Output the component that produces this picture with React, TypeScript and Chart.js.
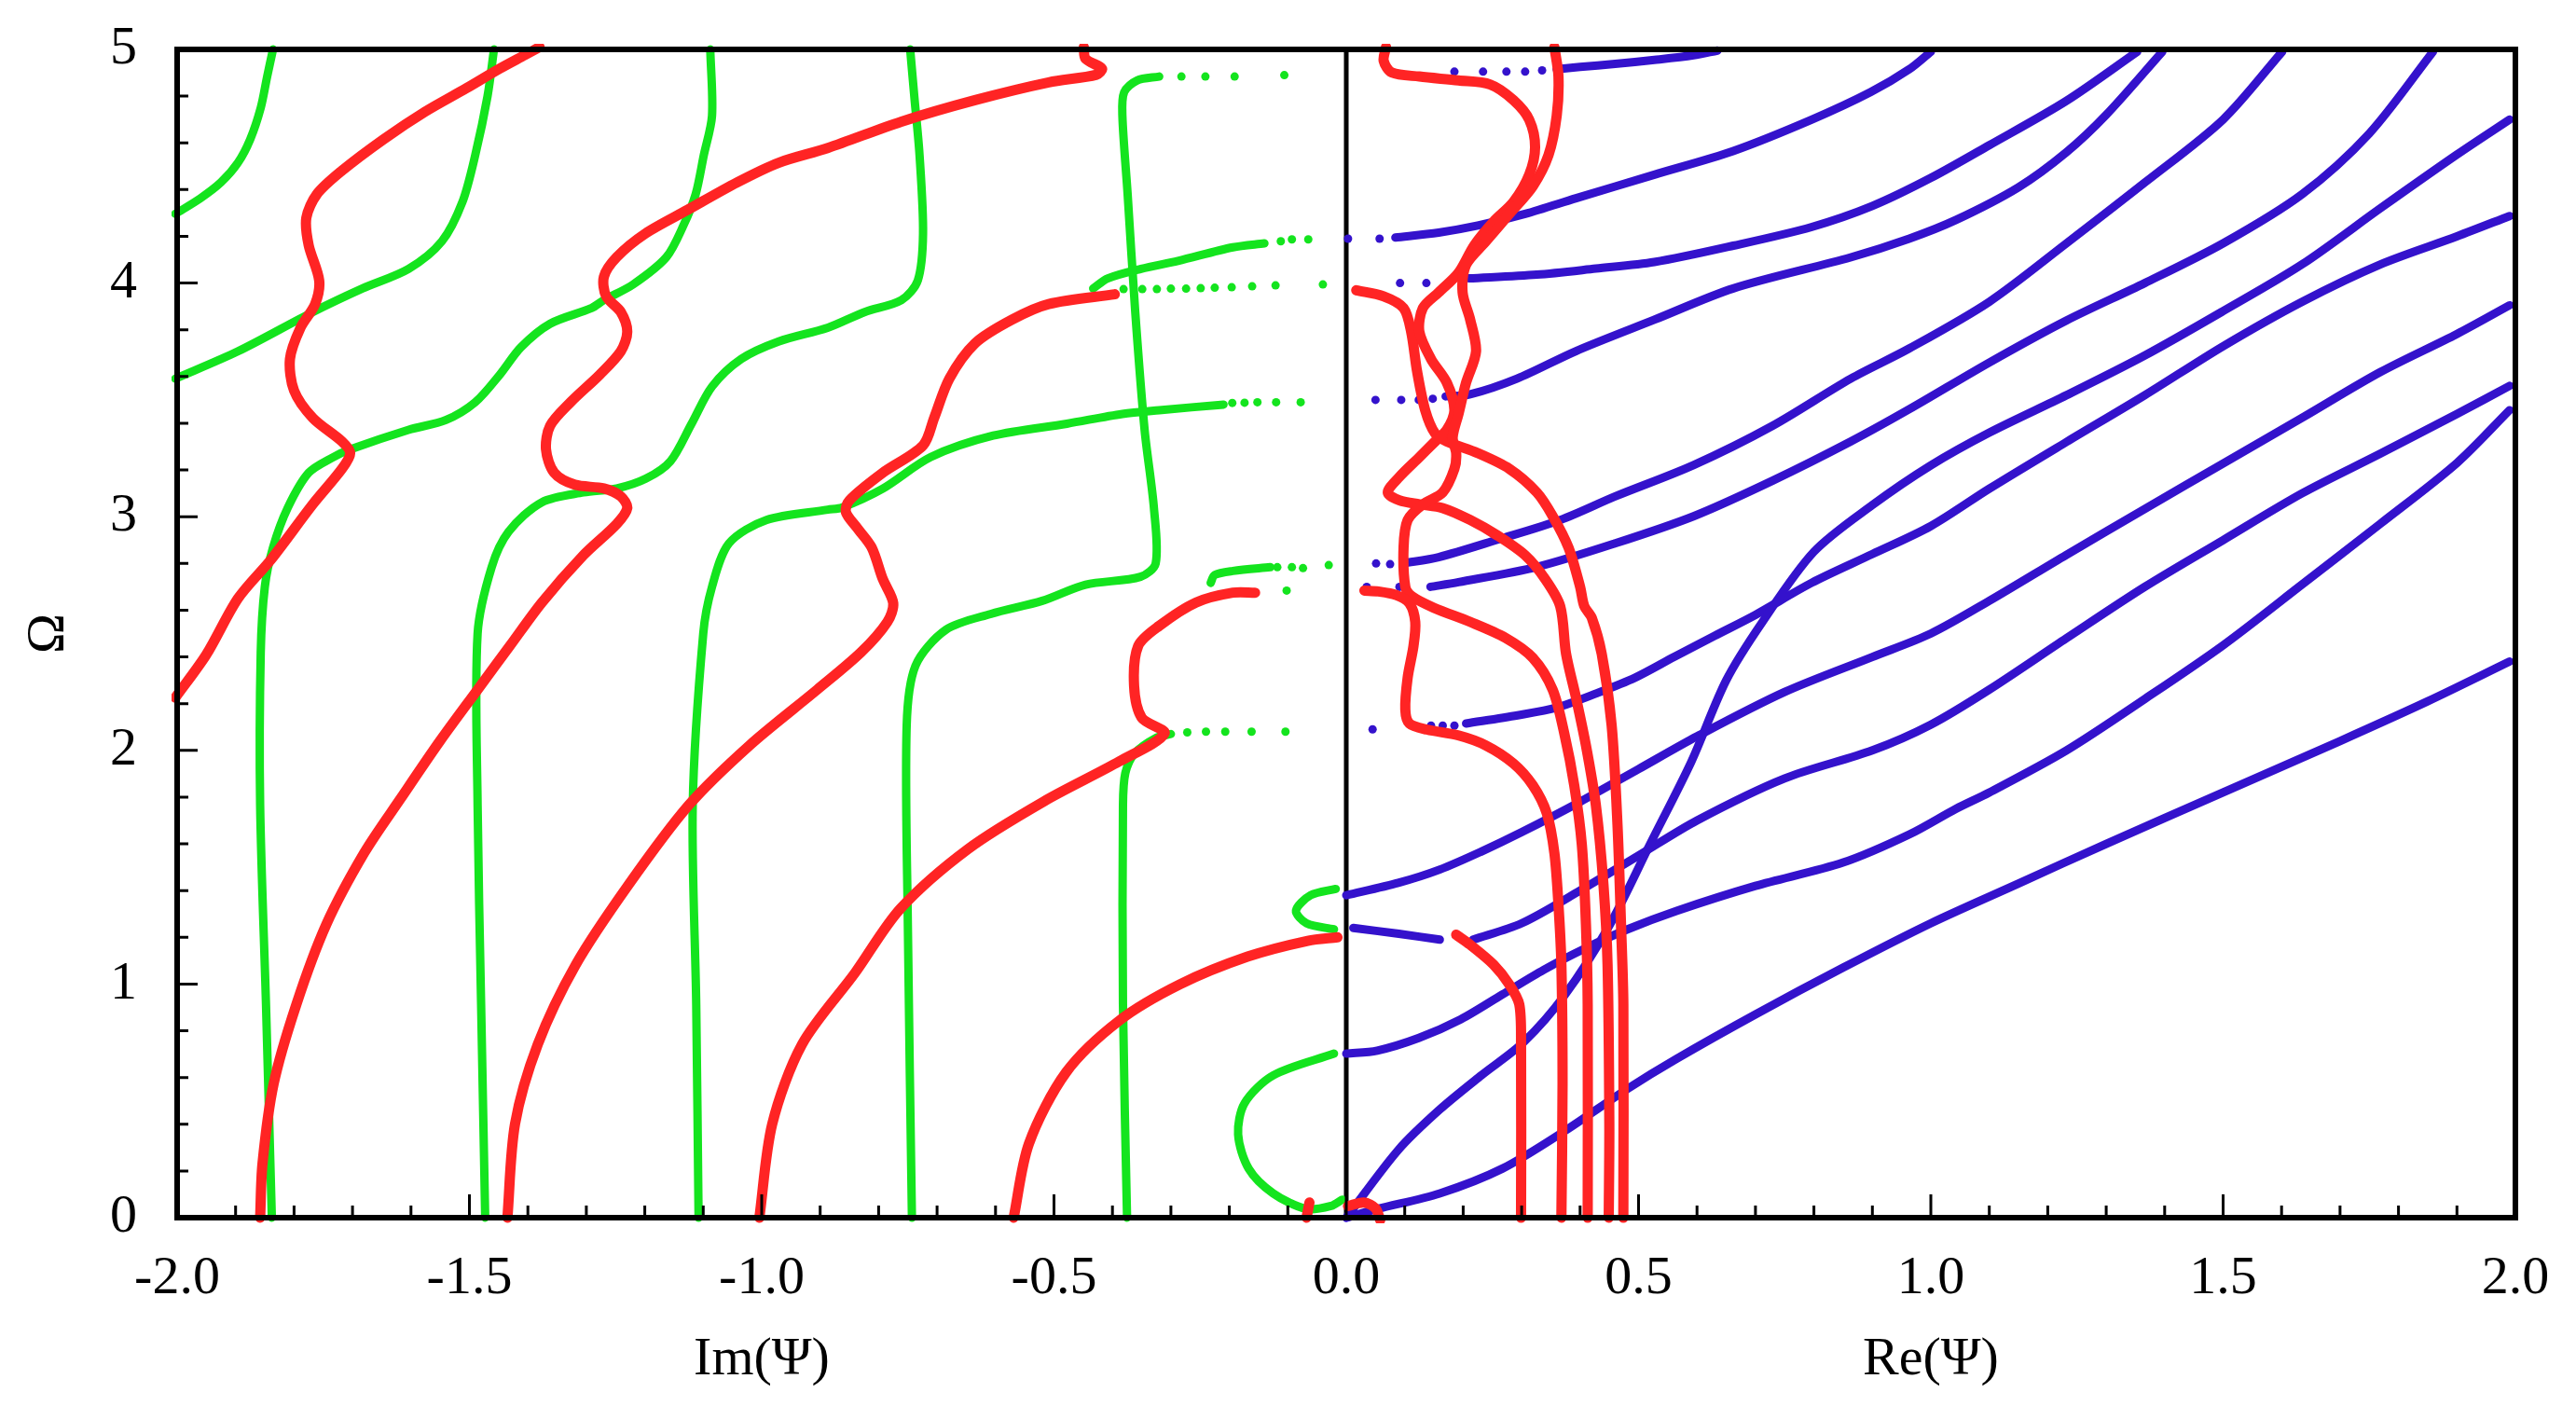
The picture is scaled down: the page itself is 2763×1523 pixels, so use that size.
import React, { useEffect, useRef } from 'react';
import { Chart, registerables } from 'chart.js';

Chart.register(...registerables);

type P = [number, number];

// ---------- axis text ----------
const xTickLabels: string[] = ['-2.0', '-1.5', '-1.0', '-0.5', '0.0', '0.5', '1.0', '1.5', '2.0'];
const yTickLabels: string[] = ['0', '1', '2', '3', '4', '5'];
const xTitles: string[] = ['Im(Ψ)', 'Re(Ψ)'];
const xTitleCenters: number[] = [-1, 1];
const yTitle = 'Ω';

// ---------- Im(Ψ) : green branches ----------
const gImA: P[] = [[-2.003, 4.296], [-1.96, 4.363], [-1.925, 4.431], [-1.896, 4.515], [-1.875, 4.615], [-1.857, 4.75], [-1.846, 4.884], [-1.836, 5.0]];
const gImB: P[] = [[-2.003, 3.591], [-1.896, 3.708], [-1.768, 3.876], [-1.683, 3.977], [-1.604, 4.061], [-1.547, 4.179], [-1.512, 4.347], [-1.49, 4.548], [-1.469, 4.8], [-1.458, 5.0]];
const gIm1: P[] = [[-1.838, 0], [-1.848, 0.913], [-1.858, 1.765], [-1.857, 2.418], [-1.85, 2.7], [-1.836, 2.868], [-1.811, 3.037], [-1.775, 3.188], [-1.733, 3.255], [-1.704, 3.288], [-1.604, 3.372], [-1.54, 3.414], [-1.49, 3.49], [-1.448, 3.608], [-1.412, 3.725], [-1.362, 3.826], [-1.291, 3.893], [-1.27, 3.927], [-1.22, 3.994], [-1.163, 4.111], [-1.134, 4.246], [-1.113, 4.38], [-1.099, 4.548], [-1.085, 4.716], [-1.088, 5.0]];
const gIm2: P[] = [[-1.473, 0], [-1.48, 0.913], [-1.486, 1.765], [-1.486, 2.5], [-1.462, 2.784], [-1.433, 2.936], [-1.376, 3.062], [-1.305, 3.104], [-1.248, 3.121], [-1.198, 3.163], [-1.156, 3.238], [-1.12, 3.398], [-1.085, 3.557], [-1.035, 3.675], [-0.971, 3.75], [-0.887, 3.809], [-0.824, 3.876], [-0.761, 3.927], [-0.733, 4.011], [-0.724, 4.212], [-0.73, 4.548], [-0.739, 4.8], [-0.746, 5.0]];
const gIm3: P[] = [[-1.108, 0], [-1.112, 0.913], [-1.118, 1.765], [-1.1, 2.5], [-1.085, 2.7], [-1.056, 2.886], [-0.992, 2.986], [-0.887, 3.03], [-0.862, 3.04], [-0.793, 3.12], [-0.711, 3.255], [-0.604, 3.347], [-0.478, 3.398], [-0.383, 3.44], [-0.32, 3.456], [-0.21, 3.48]];
const gIm3Dots: P[] = [[-0.195, 3.487], [-0.174, 3.488], [-0.152, 3.49], [-0.12, 3.49], [-0.078, 3.49]];
const gIm4: P[] = [[-0.743, 0], [-0.75, 1.254], [-0.752, 2.106], [-0.737, 2.362], [-0.685, 2.516], [-0.608, 2.584], [-0.52, 2.64], [-0.446, 2.709], [-0.352, 2.743], [-0.326, 2.801], [-0.329, 3.036], [-0.345, 3.372], [-0.361, 3.876], [-0.374, 4.38], [-0.383, 4.716], [-0.38, 4.817], [-0.358, 4.867], [-0.32, 4.884]];
const gIm4Dots: P[] = [[-0.282, 4.884], [-0.241, 4.884], [-0.191, 4.884], [-0.106, 4.89]];
const gIm5: P[] = [[-0.375, 0], [-0.382, 0.913], [-0.382, 1.765], [-0.378, 1.902], [-0.362, 1.987], [-0.324, 2.055], [-0.3, 2.07]];
const gIm5Dots: P[] = [[-0.272, 2.077], [-0.24, 2.08], [-0.207, 2.08], [-0.162, 2.08], [-0.104, 2.08]];
const gImSeg275: P[] = [[-0.232, 2.717], [-0.225, 2.751], [-0.194, 2.768], [-0.13, 2.784]];
const gImSeg275Dots: P[] = [[-0.118, 2.784], [-0.093, 2.784], [-0.074, 2.78], [-0.03, 2.793], [-0.102, 2.684]];
const gImSeg40: P[] = [[-0.433, 3.977], [-0.408, 4.02], [-0.351, 4.061], [-0.288, 4.095], [-0.194, 4.153], [-0.14, 4.17]];
const gImSeg40Dots: P[] = [[-0.112, 4.179], [-0.093, 4.187], [-0.065, 4.187]];
const gImRow397Dots: P[] = [[-0.381, 3.974], [-0.349, 3.974], [-0.324, 3.974], [-0.3, 3.976], [-0.274, 3.976], [-0.249, 3.978], [-0.225, 3.98], [-0.196, 3.982], [-0.161, 3.986], [-0.121, 3.99], [-0.04, 3.994]];
const gImLoop: P[] = [[-0.021, 0.702], [-0.125, 0.609], [-0.174, 0.49], [-0.185, 0.356], [-0.167, 0.21], [-0.125, 0.104], [-0.068, 0.037], [-0.026, 0.05], [-0.007, 0.077]];
const gImHook: P[] = [[-0.018, 1.407], [-0.061, 1.38], [-0.086, 1.314], [-0.068, 1.26], [-0.021, 1.234]];

// ---------- Im(Ψ) : red branches ----------
const rImA: P[] = [[-2.003, 2.226], [-1.95, 2.41], [-1.896, 2.65], [-1.839, 2.818], [-1.768, 3.053], [-1.718, 3.205], [-1.704, 3.272], [-1.718, 3.322], [-1.768, 3.423], [-1.8, 3.54], [-1.807, 3.675], [-1.789, 3.809], [-1.764, 3.91], [-1.757, 4.011], [-1.775, 4.162], [-1.779, 4.279], [-1.761, 4.38], [-1.718, 4.481], [-1.647, 4.615], [-1.576, 4.733], [-1.505, 4.834], [-1.448, 4.918], [-1.405, 4.976], [-1.38, 5.01]];
const rImB: P[] = [[-1.858, 0], [-1.854, 0.231], [-1.835, 0.572], [-1.796, 0.913], [-1.745, 1.254], [-1.68, 1.561], [-1.616, 1.8], [-1.551, 2.038], [-1.486, 2.26], [-1.43, 2.45], [-1.376, 2.633], [-1.305, 2.835], [-1.248, 2.969], [-1.23, 3.037], [-1.241, 3.087], [-1.27, 3.121], [-1.32, 3.137], [-1.355, 3.188], [-1.369, 3.288], [-1.362, 3.389], [-1.327, 3.49], [-1.277, 3.608], [-1.241, 3.708], [-1.23, 3.792], [-1.241, 3.876], [-1.266, 3.943], [-1.27, 4.027], [-1.248, 4.111], [-1.199, 4.212], [-1.127, 4.313], [-1.042, 4.431], [-0.971, 4.515], [-0.887, 4.578], [-0.761, 4.691], [-0.635, 4.783], [-0.509, 4.859], [-0.427, 4.892], [-0.418, 4.918], [-0.446, 4.96], [-0.449, 5.01]];
const rImC: P[] = [[-1.435, 0], [-1.422, 0.401], [-1.383, 0.742], [-1.318, 1.083], [-1.228, 1.424], [-1.125, 1.765], [-1.021, 2.021], [-0.905, 2.26], [-0.83, 2.42], [-0.785, 2.55], [-0.775, 2.63], [-0.793, 2.734], [-0.812, 2.869], [-0.837, 2.953], [-0.856, 3.02], [-0.85, 3.07], [-0.793, 3.188], [-0.724, 3.305], [-0.705, 3.423], [-0.679, 3.591], [-0.635, 3.742], [-0.572, 3.843], [-0.509, 3.91], [-0.396, 3.952]];
const rImD: P[] = [[-1.004, 0], [-0.982, 0.401], [-0.931, 0.742], [-0.84, 1.049], [-0.763, 1.322], [-0.647, 1.578], [-0.517, 1.782], [-0.388, 1.953], [-0.311, 2.072], [-0.35, 2.14], [-0.363, 2.277], [-0.356, 2.447], [-0.32, 2.533], [-0.257, 2.633], [-0.194, 2.675], [-0.156, 2.675]];
const rImE: P[] = [[-0.569, 0], [-0.543, 0.316], [-0.479, 0.623], [-0.388, 0.844], [-0.285, 0.998], [-0.169, 1.117], [-0.066, 1.185], [-0.015, 1.2]];
const rImF: P[] = [[-0.068, 0], [-0.063, 0.065]];

// ---------- Re(Ψ) : red branches ----------
const rRe1: P[] = [[0.299, 0], [0.299, 0.742], [0.296, 0.913], [0.279, 0.998], [0.252, 1.083], [0.212, 1.168], [0.188, 1.211]];
const rRe2: P[] = [[0.368, 0], [0.37, 0.572], [0.368, 1.083], [0.363, 1.339], [0.356, 1.561], [0.343, 1.731], [0.319, 1.851], [0.286, 1.944], [0.239, 2.021], [0.192, 2.064], [0.138, 2.089], [0.108, 2.115], [0.101, 2.175], [0.105, 2.311], [0.115, 2.447], [0.118, 2.55], [0.108, 2.63], [0.085, 2.665], [0.055, 2.68], [0.031, 2.684]];
const rRe3: P[] = [[0.413, 0], [0.413, 0.913], [0.41, 1.254], [0.403, 1.595], [0.39, 1.85], [0.373, 2.072], [0.353, 2.26], [0.319, 2.396], [0.272, 2.482], [0.212, 2.55], [0.15, 2.61], [0.112, 2.66], [0.101, 2.7], [0.098, 2.868], [0.105, 2.986], [0.131, 3.053], [0.165, 3.104], [0.185, 3.205], [0.188, 3.272], [0.182, 3.339], [0.192, 3.44], [0.205, 3.574], [0.222, 3.708], [0.212, 3.843], [0.199, 3.96], [0.205, 4.078], [0.239, 4.179], [0.279, 4.296], [0.319, 4.414], [0.346, 4.548], [0.36, 4.716], [0.363, 4.884], [0.356, 5.01]];
const rRe4: P[] = [[0.449, 0], [0.45, 0.401], [0.447, 1.083], [0.44, 1.424], [0.427, 1.765], [0.41, 2.021], [0.393, 2.226], [0.376, 2.413], [0.366, 2.617], [0.34, 2.734], [0.306, 2.835], [0.259, 2.919], [0.212, 2.986], [0.165, 3.037], [0.125, 3.053], [0.091, 3.07], [0.071, 3.104], [0.091, 3.171], [0.125, 3.255], [0.152, 3.322], [0.172, 3.372], [0.185, 3.456], [0.172, 3.574], [0.145, 3.675], [0.125, 3.792], [0.131, 3.893], [0.158, 3.96], [0.192, 4.044], [0.219, 4.162], [0.252, 4.263], [0.286, 4.347], [0.313, 4.464], [0.323, 4.582], [0.313, 4.699], [0.286, 4.783], [0.246, 4.85], [0.192, 4.867], [0.125, 4.884], [0.078, 4.901], [0.064, 4.951], [0.068, 5.01]];
const rRe5: P[] = [[0.474, 0], [0.474, 0.913], [0.47, 1.254], [0.464, 1.68], [0.454, 2.106], [0.437, 2.413], [0.42, 2.567], [0.407, 2.618], [0.4, 2.7], [0.38, 2.869], [0.353, 3.003], [0.326, 3.104], [0.279, 3.205], [0.225, 3.272], [0.172, 3.322], [0.152, 3.356], [0.135, 3.456], [0.121, 3.624], [0.111, 3.792], [0.098, 3.893], [0.064, 3.943], [0.017, 3.969]];
const rRe6: P[] = [[0.003, 0.05], [0.03, 0.065], [0.05, 0.04], [0.058, -0.01]];

// ---------- Re(Ψ) : blue branches ----------
const bT1Dots: P[] = [[0.185, 4.905], [0.234, 4.905], [0.274, 4.905], [0.306, 4.905], [0.335, 4.91]];
const bT1: P[] = [[0.36, 4.915], [0.4, 4.925], [0.46, 4.938], [0.527, 4.955], [0.594, 4.975], [0.635, 4.995]];
const bT2Dots: P[] = [[0.003, 4.19], [0.057, 4.19]];
const bT2: P[] = [[0.084, 4.195], [0.158, 4.216], [0.225, 4.246], [0.306, 4.296], [0.393, 4.363], [0.527, 4.464], [0.662, 4.565], [0.796, 4.699], [0.897, 4.817], [0.963, 4.915], [1.0, 4.99]];
const bADots: P[] = [[0.092, 4.0], [0.137, 4.0]];
const bA: P[] = [[0.21, 4.02], [0.326, 4.036], [0.427, 4.062], [0.527, 4.09], [0.662, 4.16], [0.796, 4.24], [0.9, 4.33], [1.0, 4.45], [1.1, 4.59], [1.232, 4.78], [1.353, 4.99]];
const bBDots: P[] = [[0.05, 3.5], [0.094, 3.5], [0.124, 3.5], [0.148, 3.505]];
const bB: P[] = [[0.17, 3.515], [0.212, 3.524], [0.292, 3.591], [0.393, 3.709], [0.527, 3.843], [0.662, 3.977], [0.863, 4.11], [0.963, 4.19], [1.043, 4.27], [1.15, 4.41], [1.232, 4.56], [1.3, 4.72], [1.396, 4.99]];
const bCDots: P[] = [[0.051, 2.8], [0.075, 2.797]];
const bC: P[] = [[0.098, 2.801], [0.158, 2.827], [0.259, 2.902], [0.366, 2.986], [0.46, 3.087], [0.594, 3.221], [0.729, 3.389], [0.863, 3.591], [0.963, 3.72], [1.1, 3.92], [1.232, 4.17], [1.366, 4.43], [1.5, 4.7], [1.601, 4.99]];
const bDDots: P[] = [[0.035, 2.7], [0.091, 2.7]];
const bD: P[] = [[0.144, 2.7], [0.192, 2.72], [0.326, 2.785], [0.46, 2.886], [0.595, 3.003], [0.729, 3.154], [0.863, 3.322], [0.963, 3.46], [1.1, 3.66], [1.232, 3.84], [1.366, 4.0], [1.5, 4.17], [1.635, 4.38], [1.75, 4.64], [1.859, 4.99]];
const bE: P[] = [[0.0, 0.0], [0.089, 0.29], [0.16, 0.463], [0.231, 0.609], [0.303, 0.75], [0.373, 0.95], [0.45, 1.25], [0.52, 1.6], [0.59, 1.95], [0.65, 2.3], [0.712, 2.55], [0.8, 2.85], [0.9, 3.05], [1.0, 3.22], [1.1, 3.36], [1.232, 3.52], [1.366, 3.69], [1.5, 3.88], [1.635, 4.08], [1.769, 4.32], [1.9, 4.55], [1.99, 4.7]];
const bFDots: P[] = [[0.045, 2.09], [0.145, 2.106], [0.165, 2.106], [0.185, 2.106]];
const bF: P[] = [[0.205, 2.115], [0.293, 2.15], [0.36, 2.183], [0.427, 2.243], [0.494, 2.311], [0.561, 2.4], [0.63, 2.49], [0.7, 2.58], [0.796, 2.717], [0.9, 2.84], [1.0, 2.96], [1.1, 3.12], [1.232, 3.32], [1.366, 3.52], [1.5, 3.73], [1.635, 3.92], [1.769, 4.08], [1.9, 4.2], [1.99, 4.287]];
const bG: P[] = [[0.0, 1.38], [0.089, 1.433], [0.16, 1.49], [0.231, 1.567], [0.3, 1.65], [0.4, 1.78], [0.5, 1.92], [0.6, 2.06], [0.75, 2.25], [0.9, 2.4], [1.0, 2.5], [1.1, 2.64], [1.232, 2.837], [1.366, 3.033], [1.5, 3.228], [1.635, 3.423], [1.769, 3.619], [1.9, 3.782], [1.99, 3.905]];
const bH1: P[] = [[0.012, 1.24], [0.09, 1.215], [0.16, 1.19]];
const bH2: P[] = [[0.217, 1.19], [0.3, 1.26], [0.4, 1.4], [0.5, 1.55], [0.6, 1.7], [0.75, 1.88], [0.9, 2.0], [1.0, 2.11], [1.1, 2.26], [1.232, 2.48], [1.366, 2.7], [1.5, 2.9], [1.635, 3.1], [1.769, 3.27], [1.9, 3.44], [1.99, 3.56]];
const bI: P[] = [[0.0, 0.702], [0.053, 0.715], [0.124, 0.769], [0.196, 0.849], [0.267, 0.955], [0.338, 1.061], [0.41, 1.154], [0.48, 1.233], [0.565, 1.313], [0.7, 1.42], [0.85, 1.52], [0.963, 1.64], [1.043, 1.75], [1.1, 1.82], [1.232, 2.0], [1.366, 2.22], [1.5, 2.45], [1.635, 2.71], [1.769, 2.97], [1.9, 3.23], [1.99, 3.456]];
const bJ: P[] = [[0.0, 0.0], [0.053, 0.037], [0.16, 0.104], [0.267, 0.21], [0.373, 0.37], [0.48, 0.55], [0.565, 0.68], [0.7, 0.87], [0.85, 1.07], [1.0, 1.26], [1.15, 1.43], [1.3, 1.6], [1.5, 1.82], [1.7, 2.04], [1.85, 2.21], [1.99, 2.38]];

// ---------- the zero line ----------
const zeroLine: P[] = [[0, 0], [0, 5]];

const GREEN = '#14e41e';
const RED = '#ff2424';
const BLUE = '#3412cc';
const FONT = '"Liberation Serif", "Times New Roman", Times, serif';

const toXY = (pts: P[]) => pts.map(([x, y]) => ({ x, y }));

const line = (pts: P[], color: string, width: number) => ({
  data: toXY(pts),
  showLine: true,
  borderColor: color,
  backgroundColor: color,
  borderWidth: width,
  pointRadius: 0,
  pointHoverRadius: 0,
  tension: 0.3,
  fill: false,
  clip: 6,
  borderCapStyle: 'round',
  borderJoinStyle: 'round',
});

const dots = (pts: P[], color: string, r: number) => ({
  data: toXY(pts),
  showLine: false,
  pointRadius: r,
  pointHoverRadius: r,
  pointBackgroundColor: color,
  pointBorderColor: color,
  pointBorderWidth: 0,
  clip: 6,
});

const framePlugin = {
  id: 'framePlugin',
  afterDatasetsDraw(chart: any) {
    const { ctx, chartArea: a, scales } = chart;
    const xs = scales.x;
    const ys = scales.y;
    ctx.save();
    ctx.strokeStyle = '#000';
    ctx.lineCap = 'butt';
    ctx.lineWidth = 3;
    ctx.beginPath();
    for (let i = -20; i <= 20; i++) {
      const px = xs.getPixelForValue(i / 10);
      const len = i % 5 === 0 ? 25 : 13;
      ctx.moveTo(px, a.bottom);
      ctx.lineTo(px, a.bottom - len);
    }
    for (let i = 0; i <= 25; i++) {
      const py = ys.getPixelForValue(i / 5);
      const len = i % 5 === 0 ? 22 : 12;
      ctx.moveTo(a.left, py);
      ctx.lineTo(a.left + len, py);
    }
    ctx.stroke();
    ctx.lineWidth = 6;
    ctx.strokeRect(a.left, a.top, a.right - a.left, a.bottom - a.top);

    ctx.fillStyle = '#000';
    ctx.font = `58px ${FONT}`;
    ctx.textAlign = 'center';
    ctx.textBaseline = 'middle';
    xTitles.forEach((t, i) => {
      ctx.fillText(t, xs.getPixelForValue(xTitleCenters[i]), a.bottom + 153);
    });
    ctx.translate(45, (a.top + a.bottom) / 2);
    ctx.rotate(-Math.PI / 2);
    ctx.fillText(yTitle, 0, 0);
    ctx.restore();
  },
};

export default function App() {
  const ref = useRef<HTMLCanvasElement>(null);

  useEffect(() => {
    const redLines: P[][] = [rImA, rImB, rImC, rImD, rImE, rImF, rRe1, rRe2, rRe3, rRe4, rRe5, rRe6];
    const greenLines: P[][] = [gImA, gImB, gIm1, gIm2, gIm3, gIm4, gIm5, gImSeg275, gImSeg40, gImLoop, gImHook];
    const greenDots: P[][] = [gIm3Dots, gIm4Dots, gIm5Dots, gImSeg275Dots, gImSeg40Dots, gImRow397Dots];
    const blueLines: P[][] = [bT1, bT2, bA, bB, bC, bD, bE, bF, bG, bH1, bH2, bI, bJ];
    const blueDots: P[][] = [bT1Dots, bT2Dots, bADots, bBDots, bCDots, bDDots, bFDots];

    const datasets: any[] = [
      ...redLines.map((p) => line(p, RED, 11)),
      ...greenLines.map((p) => line(p, GREEN, 9)),
      ...greenDots.map((p) => dots(p, GREEN, 4.5)),
      ...blueLines.map((p) => line(p, BLUE, 9)),
      ...blueDots.map((p) => dots(p, BLUE, 4.5)),
      { ...line(zeroLine, '#000', 5), tension: 0, borderCapStyle: 'butt' },
    ];

    const chart = new Chart(ref.current as HTMLCanvasElement, {
      type: 'scatter',
      data: { datasets },
      options: {
        animation: false,
        responsive: false,
        devicePixelRatio: 1,
        events: [],
        layout: { padding: { top: 45, right: 57, left: 0, bottom: 0 } },
        plugins: { legend: { display: false }, tooltip: { enabled: false } },
        scales: {
          x: {
            type: 'linear',
            position: 'bottom',
            min: -2,
            max: 2,
            grid: { display: false, drawTicks: false },
            border: { display: false },
            ticks: {
              stepSize: 0.5,
              padding: 0,
              color: '#000',
              autoSkip: false,
              maxRotation: 0,
              font: { family: FONT, size: 58, lineHeight: 2.276 },
              callback: (v: any) => xTickLabels[Math.round((Number(v) + 2) * 2)] ?? '',
            },
            afterFit: (s: any) => {
              s.height = 209;
            },
          },
          y: {
            type: 'linear',
            min: 0,
            max: 5,
            grid: { display: false, drawTicks: false },
            border: { display: false },
            ticks: {
              stepSize: 1,
              padding: 43,
              color: '#000',
              font: { family: FONT, size: 58, lineHeight: 0.01 },
              callback: (v: any) => yTickLabels[Math.round(Number(v))] ?? '',
            },
            afterFit: (s: any) => {
              s.width = 182;
            },
          },
        },
      } as any,
      plugins: [framePlugin],
    });
    return () => chart.destroy();
  }, []);

  return (
    <div style={{ width: 2747, height: 1507 }}>
      <canvas ref={ref} width={2747} height={1507} style={{ display: 'block' }} />
    </div>
  );
}
